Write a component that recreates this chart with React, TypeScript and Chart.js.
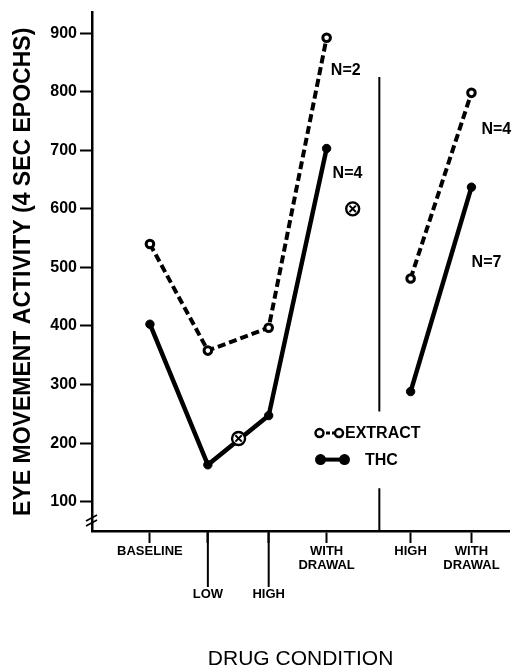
import React, { useEffect, useRef } from 'react';
import { Chart, registerables } from 'chart.js';

Chart.register(...registerables);

const FONT = "'Liberation Sans', Arial, sans-serif";

// Category positions along the drug-condition axis
const conditionPositions = [1, 2, 3.05, 4.05, 5.5, 6.55];
const conditionTickLabels: (string | string[])[] = [
  'BASELINE',
  ['', '', '', 'LOW'],
  ['', '', '', 'HIGH'],
  ['WITH', 'DRAWAL'],
  'HIGH',
  ['WITH', 'DRAWAL'],
];
const longTickIndexes = [1, 2];

// Series values (eye movement activity, 4 sec epochs)
const extractPhase1 = [540, 358, 397, 892];
const extractPhase2 = [481, 798];
const thcPhase1 = [403, 163, 247, 703];
const thcPhase2 = [288, 637];
const crossedX = [2.53, 4.5];
const crossedY = [208, 600];

const yTickValues = [100, 200, 300, 400, 500, 600, 700, 800, 900];

const sampleTexts = ['N=2', 'N=4', 'N=4', 'N=7'];
const sampleX = [4.38, 4.41, 6.98, 6.81];
const sampleY = [836, 661, 736, 508];

const dividerX = 4.96;
const dividerSegments = [
  [825, 254],
  [123, 50],
];

const pts = (xs: number[], ys: number[]) => ys.map((y, i) => ({ x: xs[i], y }));

const annotationPlugin = {
  id: 'annotations',
  afterDraw(chart: any) {
    const { ctx, chartArea: ca, scales } = chart;
    const xs = scales.x;
    const ys = scales.y;
    ctx.save();
    ctx.strokeStyle = '#000';
    ctx.fillStyle = '#000';

    // divider line
    ctx.lineWidth = 2;
    const dx = xs.getPixelForValue(dividerX);
    dividerSegments.forEach(([a, b]) => {
      ctx.beginPath();
      ctx.moveTo(dx, ys.getPixelForValue(a));
      ctx.lineTo(dx, ys.getPixelForValue(b));
      ctx.stroke();
    });

    // long ticks for LOW and first HIGH
    ctx.lineWidth = 2;
    longTickIndexes.forEach((i) => {
      const px = xs.getPixelForValue(conditionPositions[i]);
      ctx.beginPath();
      ctx.moveTo(px, ca.bottom);
      ctx.lineTo(px, ca.bottom + 56);
      ctx.stroke();
    });

    // axis break marks
    ctx.lineWidth = 1.6;
    [0, 5].forEach((off) => {
      ctx.beginPath();
      ctx.moveTo(ca.left - 6, ca.bottom - 10 + off);
      ctx.lineTo(ca.left + 5, ca.bottom - 16 + off);
      ctx.stroke();
    });

    // N labels
    ctx.font = `bold 16px ${FONT}`;
    ctx.textAlign = 'center';
    ctx.textBaseline = 'middle';
    sampleTexts.forEach((t, i) => {
      ctx.fillText(t, xs.getPixelForValue(sampleX[i]), ys.getPixelForValue(sampleY[i]));
    });

    // legend
    const lx = ca.left + 222;
    const r1 = ca.top + 420.5;
    const r2 = ca.top + 447;
    // extract row
    ctx.lineWidth = 3;
    ctx.setLineDash([4, 2]);
    ctx.beginPath();
    ctx.moveTo(lx + 6, r1);
    ctx.lineTo(lx + 21, r1);
    ctx.stroke();
    ctx.setLineDash([]);
    ctx.lineWidth = 2.5;
    [lx + 5.5, lx + 25].forEach((cx) => {
      ctx.beginPath();
      ctx.arc(cx, r1, 4, 0, Math.PI * 2);
      ctx.fillStyle = '#fff';
      ctx.fill();
      ctx.stroke();
    });
    ctx.fillStyle = '#000';
    ctx.textAlign = 'left';
    ctx.fillText('EXTRACT', lx + 31, r1 + 0.5);
    // thc row
    ctx.lineWidth = 4;
    ctx.beginPath();
    ctx.moveTo(lx + 6.5, r2);
    ctx.lineTo(lx + 30.5, r2);
    ctx.stroke();
    [lx + 6.5, lx + 30.5].forEach((cx) => {
      ctx.beginPath();
      ctx.arc(cx, r2, 5.5, 0, Math.PI * 2);
      ctx.fill();
    });
    ctx.fillText('THC', lx + 51, r2 + 0.5);
    ctx.restore();
  },
};

export default function App() {
  const ref = useRef<HTMLCanvasElement>(null);
  useEffect(() => {
    document.body.style.margin = '0';
    const black = '#000';
    const extractStyle = {
      borderColor: black,
      borderWidth: 4,
      borderDash: [8, 4],
      pointRadius: 3.8,
      pointBorderWidth: 3,
      pointBackgroundColor: '#fff',
      pointBorderColor: black,
      order: 2,
    };
    const thcStyle = {
      borderColor: black,
      borderWidth: 4.5,
      pointRadius: 4.2,
      pointBorderWidth: 1,
      pointBackgroundColor: black,
      pointBorderColor: black,
      order: 3,
    };
    const chart = new Chart(ref.current as HTMLCanvasElement, {
      type: 'line',
      data: {
        datasets: [
          {
            data: pts(crossedX, crossedY),
            showLine: false,
            pointStyle: 'crossRot',
            pointRadius: 4.5,
            borderColor: black,
            pointBorderWidth: 2,
            order: 0,
          },
          {
            data: pts(crossedX, crossedY),
            showLine: false,
            pointStyle: 'circle',
            pointRadius: 6.5,
            borderColor: black,
            backgroundColor: '#fff',
            pointBorderWidth: 2.4,
            order: 1,
          },
          { data: pts(conditionPositions.slice(0, 4), extractPhase1), ...extractStyle },
          { data: pts(conditionPositions.slice(4), extractPhase2), ...extractStyle },
          { data: pts(conditionPositions.slice(0, 4), thcPhase1), ...thcStyle },
          { data: pts(conditionPositions.slice(4), thcPhase2), ...thcStyle },
        ],
      },
      options: {
        animation: false,
        responsive: false,
        layout: { padding: { top: 12, right: 5, left: 0, bottom: 0 } },
        plugins: { legend: { display: false }, tooltip: { enabled: false } },
        scales: {
          x: {
            type: 'linear',
            min: 0,
            max: 7.2,
            afterBuildTicks: (s: any) => {
              s.ticks = conditionPositions.map((v) => ({ value: v }));
            },
            afterFit: (s: any) => {
              s.height = 139;
            },
            ticks: {
              autoSkip: false,
              maxRotation: 0,
              padding: 1,
              color: black,
              font: { family: FONT, size: 13, weight: 'bold', lineHeight: 1.1 },
              callback: (v: any) => conditionTickLabels[conditionPositions.indexOf(Number(v))] as any,
            },
            grid: { drawOnChartArea: false, drawTicks: true, tickLength: 12, tickWidth: 2, tickColor: black },
            border: { color: black, width: 2.5 },
            title: {
              display: true,
              text: 'DRUG CONDITION',
              color: black,
              font: { family: FONT, size: 21, weight: 'normal', lineHeight: 1 },
              padding: { top: 0, bottom: 0 },
            },
          },
          y: {
            type: 'linear',
            min: 50,
            max: 935,
            afterBuildTicks: (s: any) => {
              s.ticks = yTickValues.map((v) => ({ value: v }));
            },
            afterFit: (s: any) => {
              s.width = 92;
            },
            ticks: {
              padding: 3,
              color: black,
              font: { family: FONT, size: 16, weight: 'bold' },
            },
            grid: { drawOnChartArea: false, drawTicks: true, tickLength: 12, tickWidth: 2, tickColor: black },
            border: { color: black, width: 2.5 },
            title: {
              display: true,
              text: 'EYE MOVEMENT ACTIVITY (4 SEC EPOCHS)',
              color: black,
              font: { family: FONT, size: 23, weight: 'bold', lineHeight: 1 },
              padding: { top: 12, bottom: 0 },
            },
          },
        },
      } as any,
      plugins: [annotationPlugin],
    });
    return () => chart.destroy();
  }, []);
  return (
    <div style={{ width: 518, height: 670 }}>
      <canvas ref={ref} width={518} height={670} style={{ display: 'block', width: 518, height: 670 }} />
    </div>
  );
}
